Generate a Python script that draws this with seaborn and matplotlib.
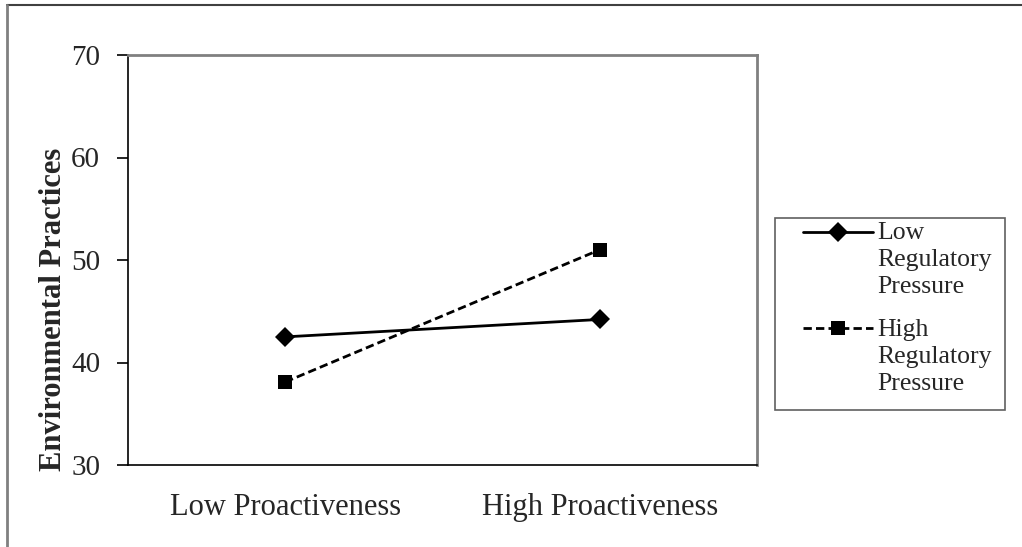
import numpy as np
import pandas as pd
import matplotlib
matplotlib.use("Agg")
import matplotlib.pyplot as plt
from matplotlib.lines import Line2D
from matplotlib.patches import Rectangle
from matplotlib.legend_handler import HandlerLine2D
import seaborn as sns

# data
categories = ["Low Proactiveness", "High Proactiveness"]
low_pressure = [42.5, 44.2]
high_pressure = [38.1, 51.0]
groups = ["Low\nRegulatory\nPressure", "High\nRegulatory\nPressure"]

df = pd.DataFrame({
    "x": list(range(len(categories))) * 2,
    "value": low_pressure + high_pressure,
    "group": [groups[0]] * len(categories) + [groups[1]] * len(categories),
})

sns.set_theme(style="white")
plt.rcParams["font.family"] = ["Liberation Serif", "DejaVu Serif"]

fig = plt.figure(figsize=(10.22, 5.47), dpi=100)
ax = fig.add_axes([128 / 1022, 1 - 465 / 547, (757 - 128) / 1022, (465 - 55) / 547])

sns.lineplot(data=df, x="x", y="value", hue="group", style="group",
             palette=["black", "black"],
             markers={groups[0]: "D", groups[1]: "s"},
             dashes={groups[0]: "", groups[1]: (3, 1.5)},
             markersize=10, markeredgewidth=0, linewidth=2,
             ax=ax, legend=True)

handles, labels = ax.get_legend_handles_labels()
ax.get_legend().remove()

ax.set_xlim(-0.5, 1.5)
ax.set_ylim(30, 70)
ax.set_yticks([30, 40, 50, 60, 70])
ax.set_xticks(range(len(categories)))
ax.set_xticklabels(categories, fontsize=22)
ax.set_xticks([-0.5, 0.5, 1.5], minor=True)
ax.tick_params(axis="x", which="major", length=0, pad=20)
ax.tick_params(axis="x", which="minor", length=8, width=1.2, color="black", direction="out")
ax.tick_params(axis="y", which="major", length=8, width=1.2, color="black", direction="out",
               labelsize=21, pad=12, left=True)
ax.set_xlabel("")
ax.set_ylabel("Environmental Practices", fontsize=22, fontweight="bold")
ax.yaxis.set_label_coords(-0.095, 0.38)

for side in ["left", "bottom"]:
    ax.spines[side].set_color("black")
    ax.spines[side].set_linewidth(1.2)
for side in ["top", "right"]:
    ax.spines[side].set_color("#808080")
    ax.spines[side].set_linewidth(2)

leg_size = 18.5
line_pitch = 28 * 0.72  # points between lines of a label


class TopLineHandler(HandlerLine2D):
    # put the marker next to the first line of a multi-line label
    def create_artists(self, legend, orig_handle, xdescent, ydescent, width, height, fontsize, trans):
        arts = super().create_artists(legend, orig_handle, xdescent, ydescent, width, height, fontsize, trans)
        for a in arts:
            a.set_ydata(np.asarray(a.get_ydata()) + line_pitch)
        return arts


leg = fig.legend(handles, labels, loc="upper left",
                 bbox_to_anchor=(803 / 1022, 1 - 222 / 547),
                 frameon=False, fontsize=leg_size, handlelength=2.72, handletextpad=0.16,
                 labelspacing=0.8, borderpad=0, borderaxespad=0,
                 handler_map={Line2D: TopLineHandler()})
for t in leg.get_texts():
    t.set_linespacing(1.3)

# legend box
fig.add_artist(Rectangle((775 / 1022, 1 - 410 / 547), 230 / 1022, 192 / 547,
                         transform=fig.transFigure, fill=False,
                         edgecolor="#606060", linewidth=1.2))

# outer frame
fig.add_artist(Line2D([7 / 1022, 1], [1 - 5 / 547, 1 - 5 / 547], transform=fig.transFigure,
                      color="#404040", linewidth=1.5))
fig.add_artist(Line2D([7 / 1022, 7 / 1022], [0, 1 - 5 / 547], transform=fig.transFigure,
                      color="#808080", linewidth=2))

fig.savefig("out.png", dpi=100)
